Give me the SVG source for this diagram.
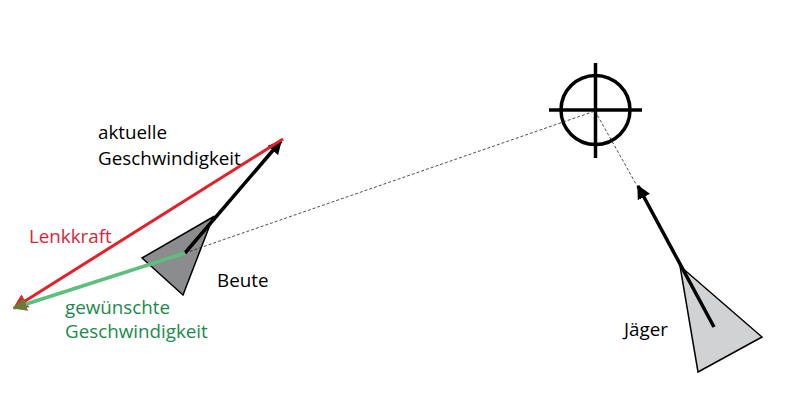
<svg xmlns="http://www.w3.org/2000/svg" width="792" height="417" viewBox="0 0 792 417">
<style>
text{font-family:"Open Sans","Liberation Sans",sans-serif;font-size:18.8px}
.dash{stroke:#222;stroke-width:0.8;stroke-dasharray:3,2;fill:none}
.tri{stroke:#000;stroke-width:1.5;stroke-linejoin:miter}
</style>
<defs>
<marker id="ab" viewBox="0 0 10 10" refX="9" refY="5" markerWidth="4" markerHeight="4" orient="auto" markerUnits="strokeWidth"><path d="M0,0 L10,5 L0,10 z" fill="#000"/></marker>
<marker id="ar" viewBox="0 0 10 10" refX="9" refY="5" markerWidth="5" markerHeight="5" orient="auto" markerUnits="strokeWidth"><path d="M0,0 L10,5 L0,10 z" fill="#e32029"/></marker>
<marker id="ag" viewBox="0 0 10 10" refX="9" refY="5" markerWidth="4" markerHeight="4" orient="auto" markerUnits="strokeWidth"><path d="M0,0 L10,5 L0,10 z" fill="#6b7a35"/></marker>
</defs>
<g id="crosshair" stroke="#000" stroke-width="3.5" fill="none">
<circle cx="595.5" cy="110" r="34.5"/>
<line x1="595.5" y1="63" x2="595.5" y2="158"/>
<line x1="549" y1="110" x2="642" y2="110"/>
</g>
<g id="beute">
<polygon class="tri" points="213,217 142,258 183,295" fill="#8b8c8e"/>
<text x="217" y="287">Beute</text>
</g>
<g id="jaeger">
<polygon class="tri" points="680,266 762,337 698,372" fill="#d1d2d4"/>
<text x="624" y="336">Jäger</text>
</g>
<g id="connectors">
<line class="dash" x1="185" y1="253" x2="595" y2="111"/>
<line class="dash" x1="595" y1="111" x2="636" y2="184"/>
<line x1="185" y1="253" x2="281" y2="141" stroke="#000" stroke-width="3.5" marker-end="url(#ab)"/>
<line x1="283" y1="139" x2="14" y2="308" stroke="#e32029" stroke-width="3" marker-end="url(#ar)"/>
<line x1="185" y1="253" x2="14" y2="308" stroke="#5cbf7d" stroke-width="3.5" marker-end="url(#ag)"/>
<line x1="714" y1="327" x2="638" y2="186" stroke="#000" stroke-width="3.5" marker-end="url(#ab)"/>
</g>
<g id="labels">
<text x="98" y="139">aktuelle</text>
<text x="98" y="165">Geschwindigkeit</text>
<text x="29" y="243" fill="#d7263b">Lenkkraft</text>
<text x="65" y="314" fill="#1b8a4c">gewünschte</text>
<text x="65" y="338" fill="#1b8a4c">Geschwindigkeit</text>
</g>
</svg>
